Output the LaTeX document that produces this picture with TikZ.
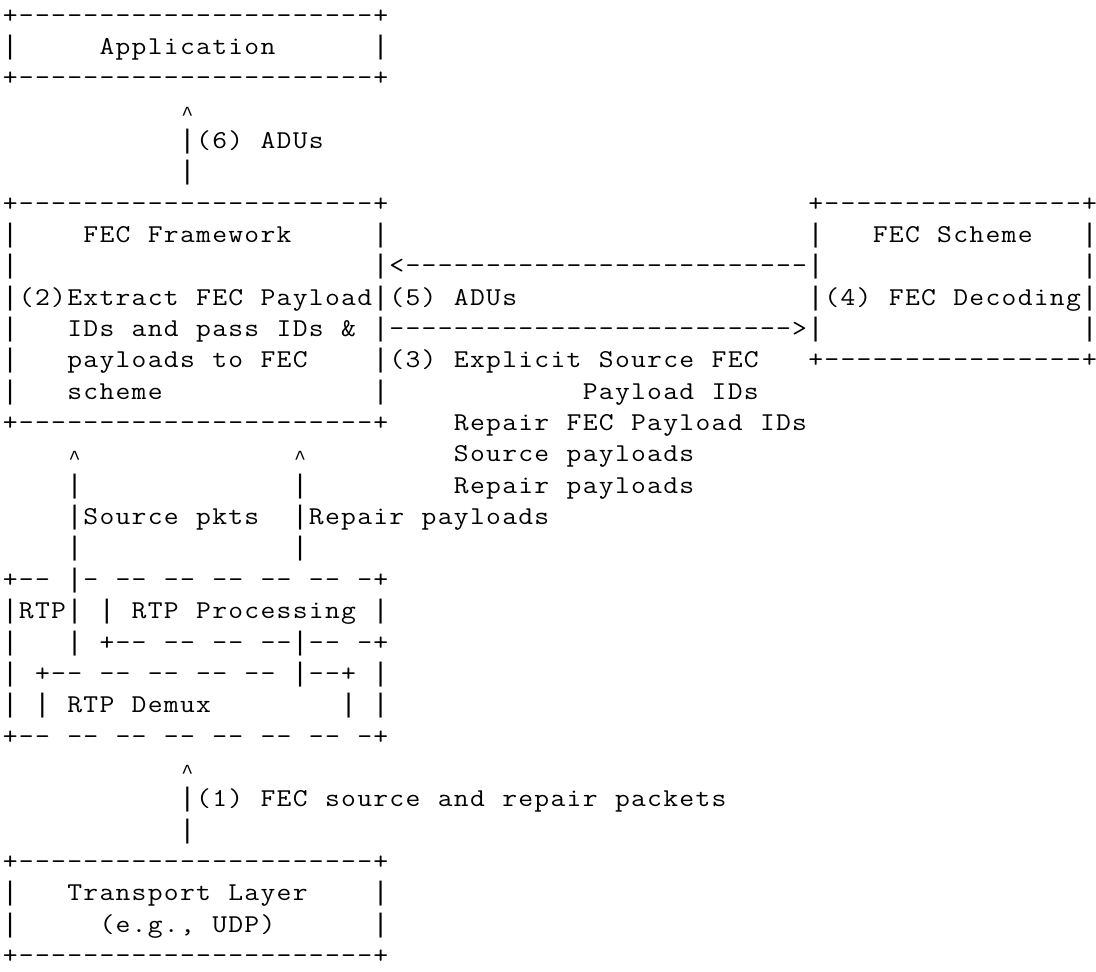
\documentclass[tikz,border=0pt]{standalone}
\usepackage{fontspec}
\usepackage{graphicx}
\newfontfamily\barfont{Liberation Mono}
% one monospaced glyph per 16.11pt cell
\ExplSyntaxOn
\cs_new:Npn \my_glyph:n #1
  {
    \str_case:nnF {#1}
      {
        {|} { {\barfont\fontsize{26.8}{31.35}\selectfont |} }
        {^} { \raisebox{-3pt}{\barfont\fontsize{20}{31.35}\selectfont \char"5E} }
      }
      { \scalebox{1.12}[1]{#1} }
  }
\NewDocumentCommand\monoline{m}
  { \str_map_inline:nn {#1} { \hbox_to_wd:nn {16.11pt} { \hss \my_glyph:n {##1} \hss } } }
\ExplSyntaxOff
\newcommand\cw{16.11}
\newcommand\ox{2.2}
\newcommand\lh{31.35}
\newcommand\bl{23}
\tikzset{
  seg/.style={inner sep=0pt, outer sep=0pt, anchor=base west, text=black,
    font=\ttfamily\fontsize{25.7}{31.35}\selectfont}
}
% \seg{row}{col}{text}
\newcommand\seg[3]{\node[seg] (s-#1-#2) at ({\ox+#2*\cw},{-(#1*\lh+\bl)}) {\monoline{#3}};}
\begin{document}
\begin{tikzpicture}[x=1pt,y=1pt]
\useasboundingbox[fill=white] (0,0) rectangle (1096,-972);
% Application
\seg{0}{0}{+----------------------+}
\seg{1}{0}{|}\seg{1}{6}{Application}\seg{1}{23}{|}
\seg{2}{0}{+----------------------+}
\seg{3}{11}{^}
\seg{4}{11}{|(6) ADUs}
\seg{5}{11}{|}
% FEC Framework / FEC Scheme
\seg{6}{0}{+----------------------+}\seg{6}{50}{+----------------+}
\seg{7}{0}{|}\seg{7}{5}{FEC Framework}\seg{7}{23}{|}\seg{7}{50}{|}\seg{7}{54}{FEC Scheme}\seg{7}{67}{|}
\seg{8}{0}{|}\seg{8}{23}{|<-------------------------|}\seg{8}{67}{|}
\seg{9}{0}{|(2)Extract FEC Payload|(5) ADUs}\seg{9}{50}{|(4) FEC Decoding|}
\seg{10}{0}{|}\seg{10}{4}{IDs and pass IDs &}\seg{10}{23}{|------------------------->|}\seg{10}{67}{|}
\seg{11}{0}{|}\seg{11}{4}{payloads to FEC}\seg{11}{23}{|(3) Explicit Source FEC}\seg{11}{50}{+----------------+}
\seg{12}{0}{|}\seg{12}{4}{scheme}\seg{12}{23}{|}\seg{12}{36}{Payload IDs}
\seg{13}{0}{+----------------------+}\seg{13}{28}{Repair FEC Payload IDs}
\seg{14}{4}{^}\seg{14}{18}{^}\seg{14}{28}{Source payloads}
\seg{15}{4}{|}\seg{15}{18}{|}\seg{15}{28}{Repair payloads}
\seg{16}{4}{|Source pkts}\seg{16}{18}{|Repair payloads}
\seg{17}{4}{|}\seg{17}{18}{|}
% RTP
\seg{18}{0}{+-- |- -- -- -- -- -- -+}
\seg{19}{0}{|RTP| | RTP Processing |}
\seg{20}{0}{|}\seg{20}{4}{| +-- -- -- --|-- -+}
\seg{21}{0}{| +-- -- -- -- -- |--+ |}
\seg{22}{0}{| | RTP Demux}\seg{22}{21}{| |}
\seg{23}{0}{+-- -- -- -- -- -- -- -+}
\seg{24}{11}{^}
\seg{25}{11}{|(1) FEC source and repair packets}
\seg{26}{11}{|}
% Transport
\seg{27}{0}{+----------------------+}
\seg{28}{0}{|}\seg{28}{4}{Transport Layer}\seg{28}{23}{|}
\seg{29}{0}{|}\seg{29}{6}{(e.g., UDP)}\seg{29}{23}{|}
\seg{30}{0}{+----------------------+}
\end{tikzpicture}
\end{document}
